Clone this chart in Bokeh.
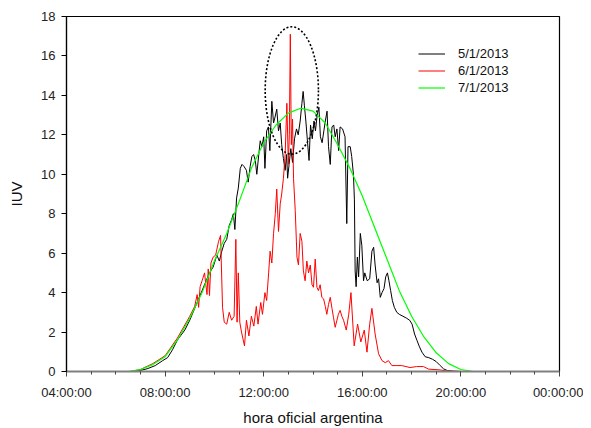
from bokeh.plotting import figure
from bokeh.models import FixedTicker, Legend, LegendItem, Range1d
from bokeh.embed import file_html
from bokeh.resources import INLINE

# ---------------- data (hours of day, IUV) ----------------
tick_hours = [4, 8, 12, 16, 20, 24]
tick_labels = ["04:00:00", "08:00:00", "12:00:00", "16:00:00", "20:00:00", "00:00:00"]
series_names = ["5/1/2013", "6/1/2013", "7/1/2013"]

black_t = [6.8, 7.0, 7.3, 7.6, 7.9, 8.1, 8.3, 8.5, 8.8, 9.0, 9.2, 9.4, 9.6, 9.8, 9.95,
           10.1, 10.2, 10.3, 10.4, 10.5, 10.6, 10.7, 10.77, 10.83, 10.9, 10.97, 11.05, 11.12,
           11.2, 11.3, 11.37, 11.45, 11.52, 11.59, 11.66, 11.72, 11.8, 11.86, 11.93, 12.0,
           12.05, 12.12, 12.19, 12.25, 12.33, 12.4, 12.46, 12.53, 12.6, 12.67, 12.73, 12.8,
           12.87, 12.93, 12.97, 13.03, 13.1, 13.17, 13.25, 13.33, 13.4, 13.48, 13.55, 13.6,
           13.65, 13.71, 13.78, 13.84, 13.9, 13.97, 14.04, 14.1, 14.17, 14.24, 14.3, 14.37,
           14.44, 14.5, 14.57, 14.63, 14.7, 14.77, 14.84, 14.9, 14.97, 15.04, 15.1, 15.2,
           15.3, 15.37, 15.42, 15.51, 15.57, 15.64, 15.68, 15.71, 15.75, 15.8, 15.85, 15.92,
           15.98, 16.05, 16.1, 16.2, 16.3, 16.39, 16.46, 16.52, 16.6, 16.66, 16.73, 16.8,
           16.88, 16.95, 17.02, 17.08, 17.15, 17.22, 17.3, 17.4, 17.5, 17.65, 17.8, 17.92,
           18.02, 18.12, 18.22, 18.32, 18.42, 18.55, 18.7, 18.85, 19.0, 19.16, 19.3, 19.45,
           19.7, 20.0]
black_v = [0.0, 0.05, 0.15, 0.3, 0.55, 0.7, 1.1, 1.6, 2.1, 2.6, 3.2, 3.8, 4.4, 5.0, 5.3,
           5.9, 5.6, 6.1, 6.5, 6.7, 7.4, 7.7, 8.0, 7.2, 8.8, 9.3, 10.3, 10.5,
           10.4, 10.2, 9.6, 10.4, 10.9, 11.0, 10.7, 10.0, 11.0, 11.7, 11.4, 11.9,
           10.3, 12.2, 12.4, 11.2, 13.7, 12.6, 12.9, 13.3, 12.2, 12.6, 11.5, 10.8,
           10.2, 11.0, 9.8, 10.5, 11.3, 10.6, 11.8, 12.3, 12.0, 12.7, 13.6, 14.2,
           13.5, 12.7, 11.6, 10.7, 12.5, 11.8, 12.7, 12.2, 13.0, 13.4, 11.9, 11.6,
           12.2, 12.7, 13.2, 11.4, 10.5, 12.4, 12.5, 11.9, 12.3, 11.2, 12.4, 12.3,
           11.9, 7.5, 11.4, 11.4, 10.9, 10.0, 8.7, 5.1, 4.3, 5.8, 4.8, 7.0,
           6.4, 4.6, 5.0, 4.6, 4.7, 6.1, 6.3, 5.4, 4.5, 4.7, 3.76, 4.0,
           4.2, 4.8, 5.0, 4.6, 4.1, 3.6, 3.25, 3.0, 2.9, 2.8, 2.7, 2.6,
           2.4, 1.9, 1.57, 1.25, 0.98, 0.75, 0.7, 0.62, 0.5, 0.3, 0.13, 0.05,
           0.02, 0.0]

red_t = [6.6, 7.0, 7.5, 8.0, 8.5, 9.0, 9.2, 9.3, 9.36, 9.42, 9.5, 9.6, 9.7, 9.75, 9.8,
         9.86, 9.95, 10.05, 10.17, 10.25, 10.33, 10.4, 10.5, 10.6, 10.7, 10.8, 10.87, 10.92,
         10.97, 11.03, 11.1, 11.22, 11.3, 11.4, 11.5, 11.6, 11.7, 11.77, 11.88, 11.95, 12.05,
         12.12, 12.2, 12.26, 12.33, 12.4, 12.47, 12.53, 12.6, 12.67, 12.73, 12.8, 12.87,
         12.94, 13.0, 13.04, 13.08, 13.12, 13.17, 13.21, 13.28, 13.35, 13.41, 13.48, 13.55,
         13.61, 13.68, 13.75, 13.82, 13.89, 13.96, 14.02, 14.09, 14.16, 14.22, 14.29, 14.36,
         14.43, 14.5, 14.56, 14.63, 14.7, 14.77, 14.83, 14.9, 14.97, 15.03, 15.1, 15.17,
         15.24, 15.35, 15.45, 15.54, 15.67, 15.81, 15.94, 16.08, 16.19, 16.3, 16.39, 16.52,
         16.66, 16.8, 16.93, 17.06, 17.2, 17.4, 17.6, 17.94, 18.2, 18.48, 18.69, 19.16,
         19.43, 20.0]
red_v = [0.0, 0.1, 0.4, 0.8, 1.7, 2.8, 3.3, 3.9, 3.25, 4.3, 4.6, 5.0, 3.9, 5.2, 3.85,
         5.5, 5.8, 5.9, 6.6, 6.9, 3.25, 2.5, 2.4, 3.0, 2.6, 2.8, 6.7, 2.5,
         5.0, 2.5, 2.0, 1.3, 2.6, 1.8, 2.8, 2.3, 3.3, 2.4, 3.5, 2.9, 4.0,
         3.6, 5.0, 6.1, 5.5, 7.0, 8.0, 9.25, 7.1, 8.5, 9.0, 9.8, 11.0,
         13.6, 10.5, 12.0, 17.1, 11.5, 12.8, 9.8, 8.15, 5.8, 5.4, 7.0, 6.6,
         5.1, 4.6, 5.6, 5.0, 5.4, 4.4, 4.27, 5.7, 4.27, 4.1, 4.4, 3.76,
         3.68, 3.3, 2.9, 3.4, 3.76, 3.2, 2.75, 2.24, 2.6, 2.9, 3.1, 2.8,
         2.6, 2.1, 2.9, 4.0, 1.3, 2.4, 1.5, 2.1, 0.98, 2.4, 3.2, 1.9,
         0.9, 0.55, 0.45, 0.55, 0.3, 0.3, 0.3, 0.2, 0.25, 0.25, 0.12, 0.08,
         0.02, 0.0]

green_t = [6.5, 7.0, 7.5, 8.0, 8.5, 9.0, 9.5, 10.0, 10.5, 11.0, 11.5, 12.0, 12.5, 13.0,
           13.5, 14.0, 14.5, 15.0, 15.5, 16.0, 16.5, 17.0, 17.5, 18.0, 18.5, 19.0, 19.5,
           20.0, 20.5]
green_v = [0.0, 0.1, 0.35, 0.75, 1.6, 2.7, 4.0, 5.6, 7.0, 8.6, 10.3, 11.6, 12.5, 13.1,
           13.35, 13.2, 12.6, 11.5, 10.3, 8.9, 7.3, 5.7, 4.1, 2.8, 1.75, 0.95, 0.4,
           0.1, 0.0]

# highlighted region (dotted ellipse) in data units
ell_x, ell_y, ell_w, ell_h = 13.14, 14.25, 2.16, 6.46

# ---------------- figure ----------------
FONT = "Liberation Sans"
p = figure(width=583, height=428, output_backend="svg", toolbar_location=None,
           x_range=Range1d(4, 24), y_range=Range1d(0, 18),
           min_border_left=66, min_border_right=24, min_border_top=16, min_border_bottom=57)
p.background_fill_color = "white"
p.border_fill_color = "white"
p.outline_line_color = "black"
p.outline_line_width = 1.2
p.grid.grid_line_color = None

r_black = p.line(black_t, black_v, line_color="black", line_width=1)
r_red = p.line(red_t, red_v, line_color="#ff0000", line_width=1)
r_green = p.line(green_t, green_v, line_color="#00ff00", line_width=1.2)

p.ellipse(x=[ell_x], y=[ell_y], width=[ell_w], height=[ell_h], fill_alpha=0,
          line_color="black", line_width=1.6, line_dash="2 2")

# axes
xa = p.xaxis[0]
xa.ticker = FixedTicker(ticks=tick_hours, minor_ticks=list(range(4, 25)))
xa.major_label_overrides = {h: lab for h, lab in zip(tick_hours, tick_labels)}
xa.axis_line_color = "#808080"
xa.axis_line_width = 2
xa.major_tick_line_color = "#444444"
xa.minor_tick_line_color = "#444444"
xa.major_tick_out = 5
xa.major_tick_in = 0
xa.minor_tick_out = 3
xa.minor_tick_in = 0
xa.major_label_standoff = 8
xa.major_label_text_font = FONT
xa.major_label_text_font_size = "13px"
xa.major_label_text_color = "#222222"
xa.axis_label = "hora oficial argentina"
xa.axis_label_text_font = FONT
xa.axis_label_text_font_size = "15px"
xa.axis_label_text_font_style = "normal"
xa.axis_label_text_color = "#111111"
xa.axis_label_standoff = 6

ya = p.yaxis[0]
ya.ticker = FixedTicker(ticks=list(range(0, 19, 2)))
ya.axis_line_color = "black"
ya.axis_line_width = 1.2
ya.major_tick_line_color = "black"
ya.minor_tick_line_color = None
ya.major_tick_out = 5
ya.major_tick_in = 0
ya.major_label_standoff = 6
ya.major_label_text_font = FONT
ya.major_label_text_font_size = "13px"
ya.major_label_text_color = "#222222"
ya.axis_label = "IUV"
ya.axis_label_text_font = FONT
ya.axis_label_text_font_size = "15px"
ya.axis_label_text_font_style = "normal"
ya.axis_label_text_color = "#111111"
ya.axis_label_standoff = 13

legend = Legend(items=[LegendItem(label=series_names[0], renderers=[r_black]),
                       LegendItem(label=series_names[1], renderers=[r_red]),
                       LegendItem(label=series_names[2], renderers=[r_green])],
                location=(352, 275), border_line_alpha=0, background_fill_alpha=0,
                padding=0, margin=0, spacing=0, glyph_width=27, glyph_height=17,
                label_height=17, label_standoff=13,
                label_text_font=FONT, label_text_font_size="13px",
                label_text_color="#111111")
p.add_layout(legend)

open("out.html", "w").write(file_html(p, INLINE))
